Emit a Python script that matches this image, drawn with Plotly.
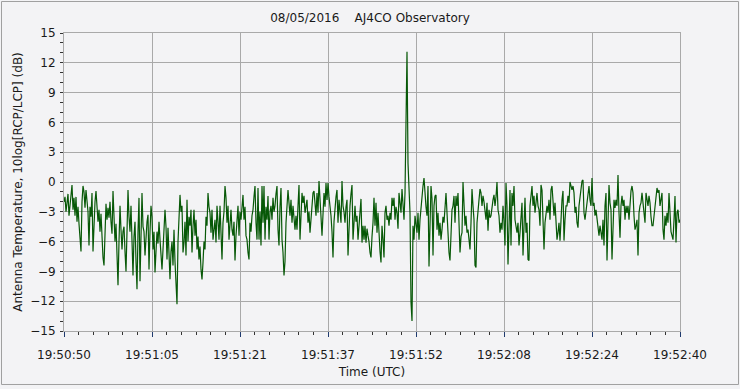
import plotly.graph_objects as go

# ---- data ----
duration_s = 110.0  # 19:50:50 -> 19:52:40
tick_labels = ["19:50:50", "19:51:05", "19:51:21", "19:51:37",
               "19:51:52", "19:52:08", "19:52:24", "19:52:40"]
y_ticks = [-15, -12, -9, -6, -3, 0, 3, 6, 9, 12, 15]

ratio_db = [
    -2.0, -1.5, -3.0, -1.8, -1.2, -3.4, -2.2, -1.0, -0.3, -2.8,
    -1.6, -3.4, -1.5, -4.0, -2.5, -4.2, -5.5, -7.0, -2.0, -0.4,
    -1.0, -2.6, -0.8, -2.2, -3.0, -6.4, -2.5, -3.5, -1.1, -7.0,
    -4.0, -2.0, -0.9, -2.6, -4.0, -2.8, -5.0, -3.2, -6.5, -7.6,
    -8.4, -5.0, -2.2, -3.8, -2.6, -3.6, -2.0, -4.0, -5.2, -0.9,
    -3.0, -6.0, -4.2, -8.0, -10.4, -6.0, -2.4, -4.8, -6.8, -5.0,
    -4.5, -7.0, -9.0, -5.0, -0.8, -3.5, -5.0, -2.4, -6.5, -9.4,
    -5.5, -4.0, -8.0, -10.8, -5.0, -1.6, -10.0, -4.0, -1.1, -4.5,
    -5.0, -7.4, -5.5, -4.0, -3.3, -8.8, -5.0, -2.4, -3.5, -6.8,
    -5.0, -9.1, -7.0, -5.0, -6.2, -4.0, -5.8, -7.5, -8.8, -6.8,
    -5.0, -2.8, -4.5, -7.8, -4.6, -6.5, -9.8, -7.0, -6.0, -8.4,
    -4.8, -8.0, -10.4, -12.3, -6.0, -3.4, -1.3, -3.0, -2.4, -7.1,
    -6.1, -4.0, -7.4, -1.8, -6.0, -3.5, -4.4, -2.8, -7.1, -4.5,
    -2.8, -5.4, -3.8, -6.8, -5.5, -7.8, -6.5, -8.8, -9.8, -8.1,
    -6.0, -6.8, -3.5, -4.4, -1.1, -2.5, -3.1, -5.1, -2.8, -5.8,
    -4.4, -3.8, -6.1, -2.4, -4.0, -5.8, -2.4, -4.8, -7.8, -4.1,
    -3.0, -0.4, -1.6, -4.1, -2.4, -5.8, -3.5, -2.8, -4.8, -5.4,
    -4.0, -7.9, -5.4, -3.4, -2.4, -5.4, -3.0, -3.8, -2.1, -1.3,
    -3.8, -2.5, -5.4, -5.8, -7.1, -7.8, -4.1, -5.0, -3.4, -2.8,
    -1.5, -0.4, -4.1, -5.8, -0.6, -5.8, -3.0, -6.4, -0.4, -4.1,
    -0.4, -5.8, -2.5, -3.8, -1.4, -5.8, -3.0, -2.4, -3.8, -1.6,
    -3.0, -2.4, -1.2, -0.4, -4.8, -6.4, -2.5, -0.6, -5.8, -7.1,
    -9.4, -8.0, -4.1, -1.5, -0.8, -2.1, -3.4, -1.8, -4.1, -2.4,
    -3.5, -4.8, -3.4, -4.8, -2.4, -0.3, -5.8, -3.0, -1.1, -2.1,
    -1.4, -3.1, -2.2, -1.8, -4.1, -3.0, -5.1, -3.5, -2.4, -1.1,
    -0.9, -2.5, -3.4, -1.1, -3.1, 0.1, -2.4, -3.5, -5.4, -2.4,
    -1.1, -2.5, -0.1, -1.8, -0.1, -1.5, -2.4, -3.4, -5.0, -7.6,
    -4.0, -2.4, -1.5, -0.8, -4.1, -1.8, -3.0, -4.1, 0.1, -2.4,
    -3.0, -4.1, -2.5, -1.8, -7.4, -4.5, -2.4, -1.2, -0.3, -5.8,
    -3.5, -2.4, -4.0, -3.4, -5.8, -4.0, -2.4, -1.7, -6.1, -4.4,
    -5.8, -4.4, -6.1, -4.7, -5.4, -6.0, -7.1, -7.6, -5.5, -4.1,
    -1.6, -4.4, -2.1, -5.1, -3.1, -5.8, -7.0, -8.1, -4.4, -5.8,
    -7.6, -3.1, -2.4, -3.8, -3.4, -4.4, -3.1, -3.8, -1.6, -2.4,
    -1.6, -3.8, -2.5, -3.1, -4.7, -1.1, -2.5, -3.1, -0.7, -2.4,
    -3.8, -1.1, 8.3, 13.1, 1.9, -0.7, -3.1, -12.1, -14.0, -4.4,
    -5.8, -3.4, -4.5, -5.1, -3.1, -5.8, -3.8, -2.4, -1.4, -0.4,
    0.4, -1.4, -2.5, -3.4, -0.4, -8.5, -2.4, -0.4, -1.7, -7.4,
    -2.4, -1.4, -1.3, -4.8, -3.1, -5.4, -4.1, -5.8, -4.8, -3.5,
    -4.1, -2.0, -1.1, -3.1, -5.8, -7.1, -7.9, -4.4, -2.8, -2.4,
    -1.4, -4.1, -1.4, -2.4, -1.1, -4.1, -7.1, -5.5, -5.1, 0.0,
    -2.4, -4.4, -3.4, -5.1, -4.8, -5.8, -6.8, -4.1, -0.7, -2.4,
    -3.8, -8.4, -8.6, -4.1, -2.4, -1.8, -0.7, -1.1, -2.4, -1.4,
    -2.0, -3.1, -3.8, -2.1, -4.9, -2.8, -3.6, -3.4, -2.4, -1.8,
    -1.3, -2.4, -1.5, 0.0, -2.8, -3.4, -5.1, -4.1, -4.8, -2.4,
    -4.0, -6.4, -0.1, -2.4, -8.3, -3.1, -0.8, -6.4, -1.1, -2.4,
    -0.4, -3.8, -4.4, -5.1, -4.1, -6.4, -5.1, -3.1, -2.1, -7.4,
    -4.1, -1.6, -5.1, -4.1, -7.8, -7.9, -2.4, -1.4, -0.4, -2.4,
    -1.4, -3.1, -2.1, -1.1, -2.4, -2.8, -4.4, -0.3, -0.8, -3.4,
    -6.8, -4.1, -3.0, -2.4, -3.1, -1.8, -3.8, -0.8, -0.4, -2.1,
    -3.4, -2.1, -4.0, -5.8, -5.1, -4.1, -5.9, -3.4, -1.8, -0.9,
    -5.9, -3.8, -2.4, -2.4, -1.4, -2.1, 0.0, -0.4, -0.8, -0.4,
    -1.1, -3.1, -2.5, -4.1, -4.6, -2.4, -1.5, -0.6, 0.1, 0.2,
    -3.1, -3.8, -2.8, -2.4, -1.1, -0.4, -1.8, -2.4, 0.4, -2.4,
    -2.1, -3.4, -2.8, -3.8, -4.4, -5.4, -4.4, -5.0, -5.8, -3.8,
    -6.4, -2.4, -1.1, -7.9, -4.1, -0.3, -2.1, -2.8, -7.8, -3.1,
    -1.8, -2.6, -1.8, -2.4, 0.7, -3.1, -5.6, -2.4, -1.4, -2.4,
    -1.8, -3.8, -2.4, -3.1, -2.4, -3.8, -1.8, -0.9, -0.4, -1.1,
    -3.4, -4.8, -4.4, -3.8, -7.4, -3.1, -2.4, -2.1, -1.1, -2.4,
    -3.0, -4.1, -1.1, -1.8, -2.4, -1.4, -2.1, -3.5, -4.4, -4.4,
    -3.4, -2.4, -1.8, -0.6, -1.1, -0.8, -2.4, -1.5, -1.1, -4.8,
    -5.8, -3.4, -4.4, -3.1, -4.1, -1.1, -4.1, -5.0, -5.4, -5.8,
    -3.8, -1.4, -6.1, -3.1, -2.8, -4.1, -3.8,
]

# elapsed seconds since 19:50:50 on a uniform sampling grid
n = len(ratio_db)
time_s = [duration_s * i / (n - 1) for i in range(n)]
tick_pos = [duration_s * k / (len(tick_labels) - 1) for k in range(len(tick_labels))]

BG = "#f3f3f5"
GRID = "#a9a9a9"
FONT = "DejaVu Sans"
TXT = "#1a1a1a"

fig = go.Figure()
fig.add_trace(go.Scatter(
    x=time_s, y=ratio_db, mode="lines",
    line=dict(color="#075807", width=1.2),
    hoverinfo="skip", showlegend=False,
))

fig.update_layout(
    width=740, height=389,
    margin=dict(l=64, r=60, t=33, b=58),
    paper_bgcolor=BG, plot_bgcolor=BG,
    font=dict(family=FONT, size=12, color=TXT),
    title=dict(text="08/05/2016\u00a0\u00a0\u00a0\u00a0AJ4CO Observatory",
               x=0.5, xanchor="center", y=0.953, yanchor="middle",
               font=dict(family=FONT, size=12, color=TXT)),
    shapes=[dict(type="rect", xref="paper", yref="paper",
                 x0=-0.10146, x1=1.09497, y0=-0.17953, y1=1.10570,
                 line=dict(color="#a0a0a0", width=1), layer="above")],
)

fig.update_xaxes(
    range=[0, duration_s], automargin=False,
    tickmode="array", tickvals=tick_pos, ticktext=tick_labels,
    ticks="outside", ticklen=5, tickcolor="#1f3a6e", tickwidth=1,
    ticklabelstandoff=8,
    showgrid=True, gridcolor=GRID, gridwidth=1,
    showline=True, linecolor=GRID, linewidth=1, mirror=True,
    zeroline=False,
    minor=dict(tickmode="linear", tick0=0, dtick=duration_s / 42,
               ticks="outside", ticklen=3, tickcolor="#333333", showgrid=False),
    title=dict(text="Time (UTC)", standoff=6, font=dict(family=FONT, size=12, color=TXT)),
    tickfont=dict(family=FONT, size=12, color=TXT),
)
fig.update_yaxes(
    range=[-15, 15], automargin=False,
    tickmode="array", tickvals=y_ticks,
    ticks="outside", ticklen=3, tickcolor="#333333", tickwidth=1,
    ticklabelstandoff=2,
    showgrid=True, gridcolor=GRID, gridwidth=1,
    showline=True, linecolor=GRID, linewidth=1, mirror=True,
    zeroline=False,
    minor=dict(tickmode="linear", tick0=0, dtick=1,
               ticks="outside", ticklen=3, tickcolor="#333333", showgrid=False),
    title=dict(text="Antenna Temperature, 10log[RCP/LCP] (dB)", standoff=5,
               font=dict(family=FONT, size=12, color=TXT)),
    tickfont=dict(family=FONT, size=12, color=TXT),
)

fig.write_html("out.html", config={"displayModeBar": False},
               post_script="document.body.style.margin='0';")
